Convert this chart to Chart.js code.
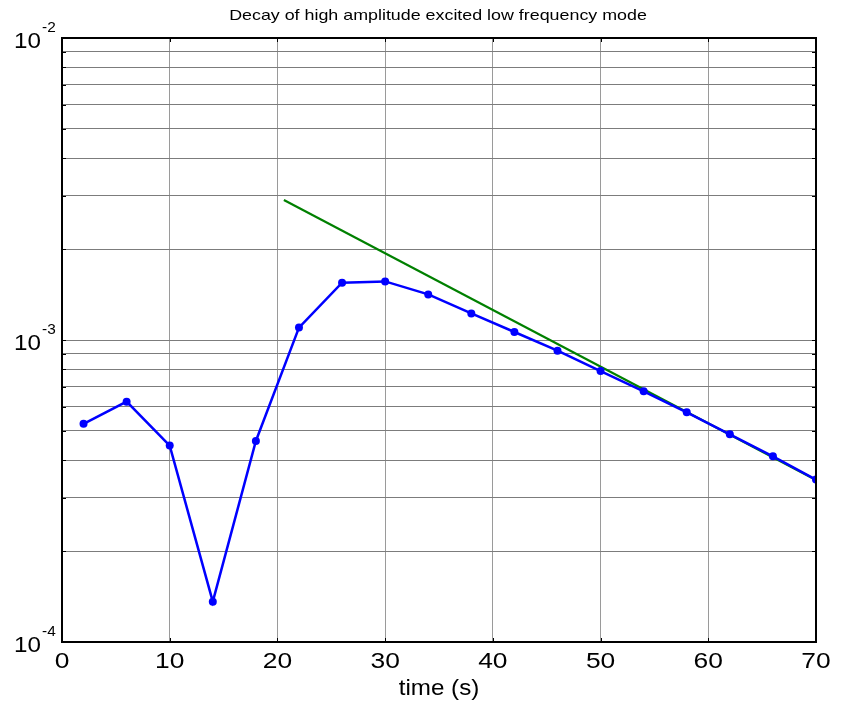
<!DOCTYPE html>
<html>
<head>
<meta charset="utf-8">
<script src="https://cdn.jsdelivr.net/npm/chart.js@4/dist/chart.umd.min.js"></script>
<style>
  html, body { margin: 0; padding: 0; background: #ffffff; }
  #wrap { width: 846px; height: 704px; }
</style>
</head>
<body>
<div id="wrap"><canvas id="c" width="846" height="704"></canvas></div>
<script>
// Measured mode amplitude, sampled every 4 s
const timeSec = [2, 6, 10, 14, 18, 22, 26, 30, 34, 38, 42, 46, 50, 54, 58, 62, 66, 70];
const amplitude = [5.28e-4, 6.25e-4, 4.47e-4, 1.36e-4, 4.63e-4, 1.099e-3, 1.548e-3, 1.563e-3,
                   1.416e-3, 1.225e-3, 1.063e-3, 9.22e-4, 7.89e-4, 6.76e-4, 5.76e-4, 4.87e-4,
                   4.12e-4, 3.45e-4];

// Exponential decay fit (straight on log axis)
const fitTime = [20.6, 70];
const fitAmplitude = [2.91e-3, 3.44e-4];

// Axis ticks
const xTicks = [0, 10, 20, 30, 40, 50, 60, 70];
const yGridValues = [1e-4, 2e-4, 3e-4, 4e-4, 5e-4, 6e-4, 7e-4, 8e-4, 9e-4,
                     1e-3, 2e-3, 3e-3, 4e-3, 5e-3, 6e-3, 7e-3, 8e-3, 9e-3, 1e-2];
const yDecades = [1e-4, 1e-3, 1e-2];
const yDecadeExponents = ['-4', '-3', '-2'];

const titleText = 'Decay of high amplitude excited low frequency mode';
const xTitleText = 'time (s)';

const FONT = '"Liberation Sans", Arial, Helvetica, sans-serif';

function stretchedText(ctx, text, x, y, size, sx, align) {
  ctx.save();
  ctx.font = size + 'px ' + FONT;
  ctx.textBaseline = 'alphabetic';
  const w = ctx.measureText(text).width * sx;
  let left = x;
  if (align === 'center') left = x - w / 2;
  else if (align === 'right') left = x - w;
  ctx.translate(left, y);
  ctx.scale(sx, 1);
  ctx.textAlign = 'left';
  ctx.fillText(text, 0, 0);
  ctx.restore();
}

// Axes box, inward tick marks and all labels in MATLAB style
const matlabAxes = {
  id: 'matlabAxes',
  afterDraw(chart) {
    const ctx = chart.ctx;
    const area = chart.chartArea;
    const xs = chart.scales.x;
    const ys = chart.scales.y;
    ctx.save();
    ctx.fillStyle = '#000000';
    ctx.strokeStyle = '#000000';

    // inward tick marks
    ctx.lineWidth = 1;
    ctx.beginPath();
    yGridValues.forEach(v => {
      const py = Math.round(ys.getPixelForValue(v)) + 0.5;
      ctx.moveTo(area.left, py); ctx.lineTo(area.left + 4, py);
      ctx.moveTo(area.right, py); ctx.lineTo(area.right - 4, py);
    });
    xTicks.forEach(v => {
      const px = Math.round(xs.getPixelForValue(v)) + 0.5;
      ctx.moveTo(px, area.top); ctx.lineTo(px, area.top + 4);
      ctx.moveTo(px, area.bottom); ctx.lineTo(px, area.bottom - 4);
    });
    ctx.stroke();

    // box
    ctx.lineWidth = 2;
    ctx.strokeRect(area.left, area.top, area.right - area.left, area.bottom - area.top);

    // x tick labels
    xTicks.forEach(v => {
      stretchedText(ctx, String(v), xs.getPixelForValue(v), area.bottom + 26, 22, 1.2, 'center');
    });

    // y decade labels 10^n
    yDecades.forEach((v, i) => {
      const py = ys.getPixelForValue(v);
      stretchedText(ctx, '10', area.left - 21, py + 10, 22, 1.1, 'right');
      stretchedText(ctx, yDecadeExponents[i], area.left - 20, py - 6, 14, 1.1, 'left');
    });

    // axis title and chart title
    stretchedText(ctx, xTitleText, (area.left + area.right) / 2, 695, 22, 1.1, 'center');
    stretchedText(ctx, titleText, 438, 20, 15, 1.19, 'center');
    ctx.restore();
  }
};

new Chart(document.getElementById('c'), {
  type: 'line',
  data: {
    datasets: [
      {
        data: timeSec.map((t, i) => ({ x: t, y: amplitude[i] })),
        borderColor: '#0000ff',
        backgroundColor: '#0000ff',
        borderWidth: 2.5,
        pointRadius: 4,
        pointBorderWidth: 0,
        pointBackgroundColor: '#0000ff',
        tension: 0
      },
      {
        data: fitTime.map((t, i) => ({ x: t, y: fitAmplitude[i] })),
        borderColor: '#008000',
        borderWidth: 2.2,
        pointRadius: 0,
        tension: 0
      }
    ]
  },
  options: {
    responsive: false,
    devicePixelRatio: 1,
    animation: false,
    layout: { padding: { left: 62, right: 30, top: 38, bottom: 62 } },
    plugins: { legend: { display: false }, tooltip: { enabled: false }, title: { display: false } },
    scales: {
      x: {
        type: 'linear',
        min: 0,
        max: 70,
        afterBuildTicks: s => { s.ticks = xTicks.map(v => ({ value: v })); },
        ticks: { display: false },
        grid: { color: '#9a9a9a', lineWidth: 1, drawTicks: false },
        border: { display: false }
      },
      y: {
        type: 'logarithmic',
        min: 1e-4,
        max: 1e-2,
        afterBuildTicks: s => { s.ticks = yGridValues.map(v => ({ value: v })); },
        ticks: { display: false },
        grid: { color: '#7c7c7c', lineWidth: 1, drawTicks: false },
        border: { display: false }
      }
    }
  },
  plugins: [matlabAxes]
});
</script>
</body>
</html>
